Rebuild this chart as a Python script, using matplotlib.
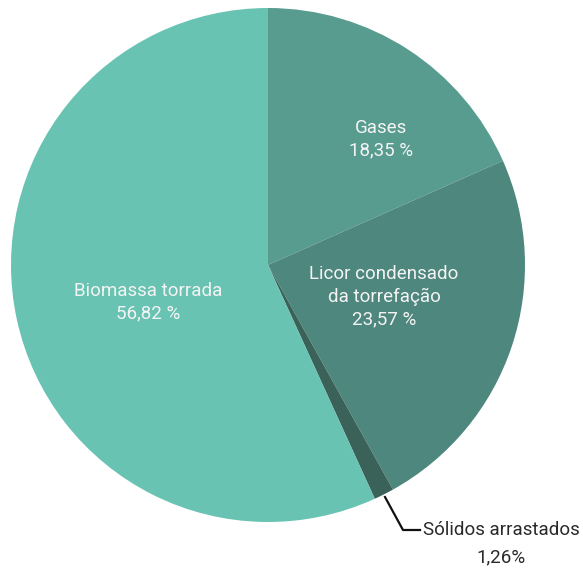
import matplotlib.pyplot as plt

labels = ['Gases', 'Licor condensado\nda torrefação', 'Sólidos arrastados', 'Biomassa torrada']
shares = [18.35, 23.57, 1.26, 56.82]
colors = ['#589c90', '#4e877d', '#3b6259', '#68c3b3']

plt.rcParams['font.family'] = ['Roboto', 'DejaVu Sans']

fig = plt.figure(figsize=(5.83, 5.69), dpi=100)
ax = fig.add_axes([11 / 583, 47 / 569, 514 / 583, 514 / 569])
ax.pie(shares, colors=colors, startangle=90, counterclock=False, radius=1,
       wedgeprops=dict(linewidth=0))
ax.set_xlim(-1, 1)
ax.set_ylim(-1, 1)
ax.set_aspect('equal')
ax.axis('off')


def px(x, y):
    # pixel position inside the pie box -> data coords
    return (x - 268) / 257, (265 - y) / 257


def fmt(v):
    return f'{v:.2f}'.replace('.', ',')


txt = dict(color='#f4f4f4', fontsize=13.5, ha='center', va='center',
           linespacing=1.32)
ax.text(*px(381, 139), f'{labels[0]}\n{fmt(shares[0])} %', **txt)
ax.text(*px(384, 297), f'{labels[1]}\n{fmt(shares[1])} %', **txt)
ax.text(*px(148, 302), f'{labels[3]}\n{fmt(shares[3])} %', **txt)

# leader line for the thin slice
xs, ys = zip(px(385, 497), px(403, 530), px(420, 530))
ax.plot(xs, ys, color='#111111', lw=1.6, clip_on=False)
ax.text(*px(423, 530), labels[2], color='#2a2a2a', fontsize=13.5,
        ha='left', va='center', clip_on=False)
ax.text(*px(501, 557), f'{fmt(shares[2])}%', color='#2a2a2a', fontsize=13.5,
        ha='center', va='center', clip_on=False)

fig.savefig('out.png', dpi=100)
